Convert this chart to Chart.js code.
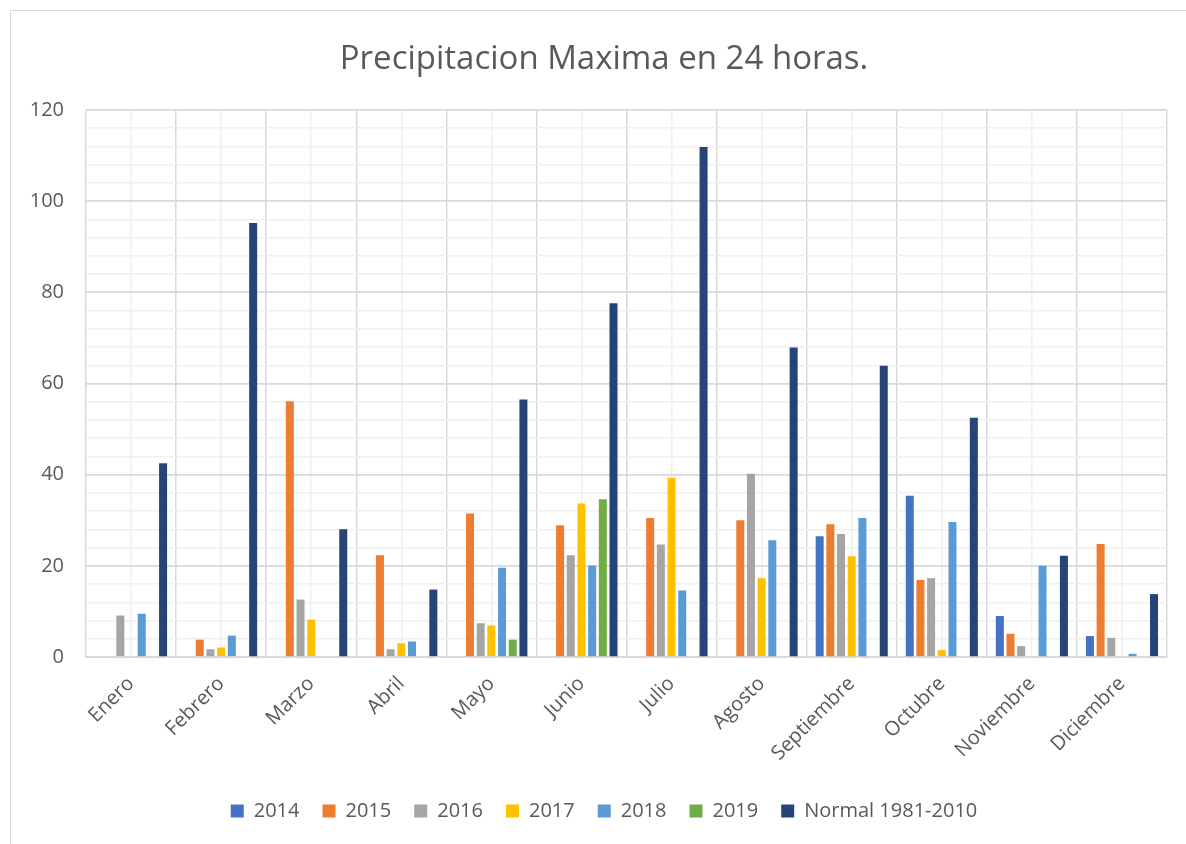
<!DOCTYPE html>
<html>
<head>
<meta charset="utf-8">
<script src="https://cdn.jsdelivr.net/npm/chart.js@4"></script>
<style>
  html, body { margin: 0; padding: 0; background: #fff; overflow: hidden; }
  #wrap { position: relative; width: 1186px; height: 844px; }
  #frame { position: absolute; left: 10px; top: 10px; width: 1300px; height: 1000px; border: 1.5px solid #d9d9d9; }
  #chart { position: absolute; left: 0; top: 0; }
</style>
</head>
<body>
<div id="wrap">
  <div id="frame"></div>
  <canvas id="chart" width="1186" height="844"></canvas>
</div>
<script>
const months = ['Enero', 'Febrero', 'Marzo', 'Abril', 'Mayo', 'Junio', 'Julio', 'Agosto', 'Septiembre', 'Octubre', 'Noviembre', 'Diciembre'];

const y2014 = [null, null, null, null, null, null, null, null, 26.5, 35.4, 9.0, 4.6];
const y2015 = [null, 3.8, 56.1, 22.3, 31.5, 28.9, 30.5, 30.0, 29.1, 16.9, 5.1, 24.8];
const y2016 = [9.1, 1.7, 12.6, 1.7, 7.4, 22.3, 24.7, 40.2, 27.0, 17.3, 2.4, 4.2];
const y2017 = [null, 2.1, 8.2, 3.0, 6.9, 33.7, 39.3, 17.3, 22.1, 1.5, null, null];
const y2018 = [9.5, 4.7, null, 3.4, 19.6, 20.1, 14.6, 25.6, 30.5, 29.6, 20.0, 0.7];
const y2019 = [null, null, null, null, 3.8, 34.6, null, null, null, null, null, null];
const normal = [42.5, 95.2, 28.0, 14.8, 56.5, 77.6, 111.9, 67.9, 63.9, 52.5, 22.2, 13.8];

const seriesNames = ['2014', '2015', '2016', '2017', '2018', '2019', 'Normal 1981-2010'];
const seriesColors = ['#4472C4', '#ED7D31', '#A5A5A5', '#FFC000', '#5B9BD5', '#70AD47', '#264478'];
const seriesData = [y2014, y2015, y2016, y2017, y2018, y2019, normal];

const yTicks = [0, 20, 40, 60, 80, 100, 120];

const font = "'Open Sans', 'Liberation Sans', sans-serif";
const txt = '#595959';

const ctx = document.getElementById('chart').getContext('2d');
new Chart(ctx, {
  type: 'bar',
  data: {
    labels: months,
    datasets: seriesNames.map((n, i) => ({
      label: n,
      data: seriesData[i],
      backgroundColor: seriesColors[i],
      borderWidth: 0,
      categoryPercentage: 0.83,
      barPercentage: 0.75
    }))
  },
  options: {
    responsive: false,
    animation: false,
    // negative right padding + empty right axis: title/legend centred like the frame
    layout: { padding: { left: 0, right: -22, top: 0, bottom: 13 } },
    plugins: {
      title: {
        display: true,
        text: 'Precipitacion Maxima en 24 horas.',
        color: txt,
        font: { family: font, size: 33, weight: 'normal' },
        padding: { top: 40, bottom: 30.4 }
      },
      legend: {
        position: 'bottom',
        labels: {
          color: txt,
          font: { family: font, size: 20 },
          boxWidth: 13,
          boxHeight: 13,
          padding: 23
        }
      },
      tooltip: { enabled: false }
    },
    scales: {
      x: {
        grid: { color: '#d9d9d9', lineWidth: 1.5, drawTicks: false, offset: true },
        border: { color: '#d9d9d9', width: 2 },
        ticks: {
          color: txt,
          font: { family: font, size: 20 },
          minRotation: 45,
          maxRotation: 45,
          autoSkip: false,
          padding: 15
        },
        afterFit: s => { s.height = 121; }
      },
      x2: {
        type: 'category',
        labels: months,
        position: 'bottom',
        offset: true,
        grid: { color: '#f0f0f0', lineWidth: 1.5, drawTicks: false, offset: false },
        border: { display: false },
        ticks: { display: false },
        afterFit: s => { s.height = 0; }
      },
      y: {
        min: 0,
        max: 120,
        ticks: {
          stepSize: 4,
          autoSkip: false,
          color: txt,
          font: { family: font, size: 20 },
          padding: 22,
          callback: v => yTicks.includes(v) ? v : ''
        },
        grid: {
          drawTicks: false,
          color: c => (c.tick && c.tick.value % 20 === 0) ? '#d9d9d9' : '#f0f0f0',
          lineWidth: c => (c.tick && c.tick.value % 20 === 0) ? 1.75 : 1.5
        },
        border: { display: false },
        afterFit: s => { s.width = 86; }
      },
      yRight: {
        position: 'right',
        min: 0,
        max: 120,
        grid: { display: false },
        border: { display: false },
        ticks: { display: false },
        afterFit: s => { s.width = 41; }
      }
    }
  }
});
</script>
</body>
</html>
